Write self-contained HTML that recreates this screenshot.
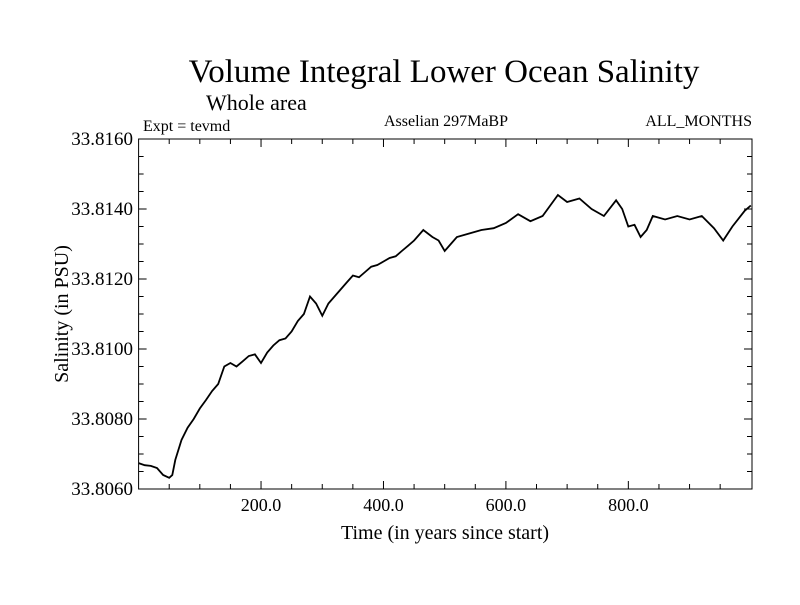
<!DOCTYPE html>
<html><head><meta charset="utf-8"><style>
body{margin:0;background:#fff;}
svg text{font-family:"Liberation Serif",serif;fill:#000;}
</style></head><body>
<svg id="chart" width="800" height="600" xmlns="http://www.w3.org/2000/svg">
<text x="444" y="82" font-size="33" text-anchor="middle">Volume Integral Lower Ocean Salinity</text>
<text x="206" y="110" font-size="22">Whole area</text>
<text x="143" y="131" font-size="16">Expt = tevmd</text>
<text x="446" y="126" font-size="16" text-anchor="middle">Asselian 297MaBP</text>
<text x="752" y="126" font-size="16" text-anchor="end">ALL_MONTHS</text>
<text transform="translate(68,314) rotate(-90)" font-size="20" text-anchor="middle">Salinity (in PSU)</text>
<text x="445" y="539" font-size="20" text-anchor="middle">Time (in years since start)</text>
<g id="axes"></g>
<rect x="138.6" y="139" width="613.4" height="350" fill="none" stroke="#000" stroke-width="1"/>
<path id="line" fill="none" stroke="#000" stroke-width="1.8"/>
</svg>
<script>
const years=[0,10,20,30,40,50,55,60,70,80,90,100,110,120,130,140,150,160,170,180,190,200,210,220,230,240,250,260,270,280,290,300,310,320,330,340,350,360,370,380,390,400,410,420,430,440,450,465,480,490,500,510,520,540,560,580,600,620,640,660,685,700,720,740,760,780,790,800,810,820,830,840,860,880,900,920,940,955,970,990,1000];
const salinity=[33.80674,33.80668,33.80666,33.80660,33.80640,33.80632,33.80640,33.80683,33.80740,33.80775,33.80800,33.80830,33.80854,33.80880,33.80900,33.80950,33.80960,33.80950,33.80965,33.80980,33.80985,33.80960,33.80990,33.81010,33.81025,33.81030,33.81050,33.81080,33.81100,33.81150,33.81130,33.81095,33.81130,33.81150,33.81170,33.81190,33.81210,33.81205,33.81220,33.81235,33.81240,33.81250,33.81260,33.81265,33.81280,33.81295,33.81310,33.81340,33.81320,33.81310,33.81280,33.81300,33.81320,33.81330,33.81340,33.81345,33.81360,33.81385,33.81365,33.81380,33.81440,33.81420,33.81430,33.81400,33.81380,33.81425,33.81400,33.81350,33.81355,33.81320,33.81340,33.81380,33.81370,33.81380,33.81370,33.81380,33.81345,33.81310,33.81350,33.81395,33.81410];
const yTickLabels=["33.8060","33.8080","33.8100","33.8120","33.8140","33.8160"];
const xTickLabels=["200.0","400.0","600.0","800.0"];
const X0=138.6,X1=752,Y0=489,Y1=139,xMin=0,xMax=1002,yMin=33.8060,yMax=33.8160;
function sx(v){return X0+(v-xMin)/(xMax-xMin)*(X1-X0);}
function sy(v){return Y0-(v-yMin)/(yMax-yMin)*(Y0-Y1);}
const ns="http://www.w3.org/2000/svg",g=document.getElementById('axes');
function ln(x1,y1,x2,y2,name){const l=document.createElementNS(ns,'line');l.setAttribute('x1',x1);l.setAttribute('y1',y1);l.setAttribute('x2',x2);l.setAttribute('y2',y2);l.setAttribute('stroke','#000');


g.appendChild(l);}
for(let i=0;i<=20;i++){const v=yMin+i*0.0005,y=sy(v),len=i%4==0?8:5;ln(X0,y,X0+len,y,'y-tick');ln(X1,y,X1-len,y,'y-tick');}
for(let v=50;v<1000;v+=50){const x=sx(v),len=v%200==0?8:5;ln(x,Y0,x,Y0-len,'x-tick');ln(x,Y1,x,Y1+len,'x-tick');}
yTickLabels.forEach(s=>{const t=document.createElementNS(ns,'text');t.setAttribute('x',133);t.setAttribute('y',sy(parseFloat(s))+6);t.setAttribute('font-size','19');t.setAttribute('text-anchor','end');t.textContent=s;


g.appendChild(t);});
xTickLabels.forEach(s=>{const t=document.createElementNS(ns,'text');t.setAttribute('x',sx(parseFloat(s)));t.setAttribute('y',511);t.setAttribute('font-size','18');t.setAttribute('text-anchor','middle');t.textContent=s;


g.appendChild(t);});
document.getElementById('line').setAttribute('d',years.map((y,i)=>(i?'L':'M')+sx(y).toFixed(1)+','+sy(salinity[i]).toFixed(1)).join(''));
</script>
</body></html>
